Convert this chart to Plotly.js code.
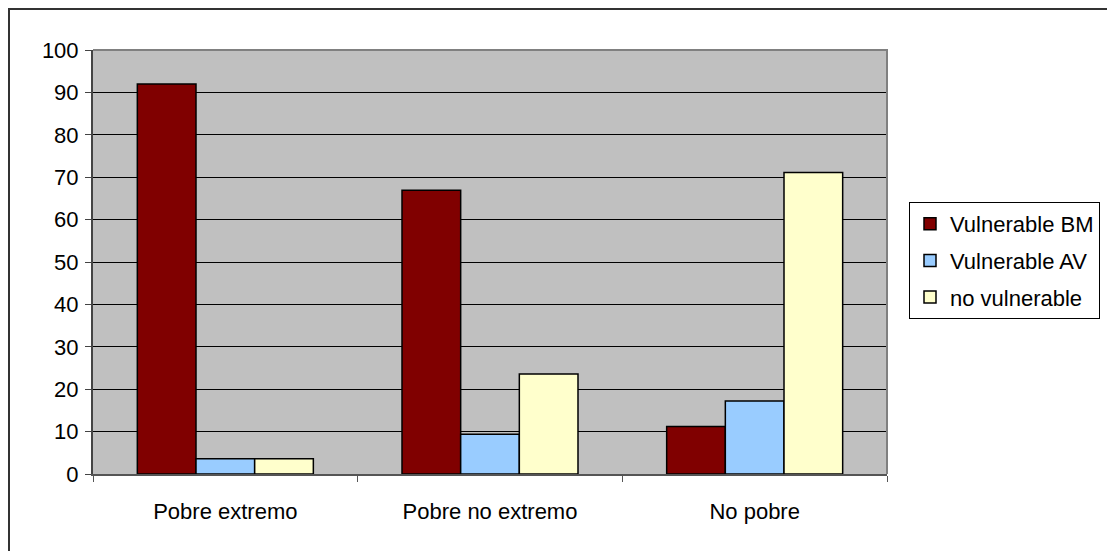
<!DOCTYPE html>
<html>
<head>
<meta charset="utf-8">
<script src="https://cdn.plot.ly/plotly-3.0.1.min.js"></script>
<style>
  html, body { margin: 0; padding: 0; background: #ffffff; }
  #chart { width: 1107px; height: 551px; }
</style>
</head>
<body>
<div id="chart"></div>
<script>
const categories = ["Pobre extremo", "Pobre no extremo", "No pobre"];
const seriesNames = ["Vulnerable BM", "Vulnerable AV", "no vulnerable"];
const vulnerableBM = [92.0, 66.9, 11.2];
const vulnerableAV = [3.6, 9.4, 17.2];
const noVulnerable = [3.6, 23.6, 71.1];
const yTicks = [0, 10, 20, 30, 40, 50, 60, 70, 80, 90, 100];

const colors = ["#800000", "#99ccff", "#ffffcc"];
const seriesValues = [vulnerableBM, vulnerableAV, noVulnerable];

const FONT = "Liberation Sans, Arial, sans-serif";
const FS = 22;

const traces = seriesValues.map((vals, i) => ({
  type: "bar",
  name: seriesNames[i],
  x: categories,
  y: vals,
  legendgroup: "g" + i,
  marker: { color: colors[i], line: { color: "#000000", width: 1.5 } },
  hoverinfo: "x+y+name"
}));

// plot area in pixels: x 93..887, y 50..474
const L = 93, R = 887, T = 50, B = 474;
const W = 1107, H = 551;
const px = v => (v - L) / (R - L);
const py = v => (B - v) / (B - T);

const layout = {
  width: W,
  height: H,
  margin: { l: L, r: W - R, t: T, b: H - B, pad: 0, autoexpand: false },
  paper_bgcolor: "#ffffff",
  plot_bgcolor: "#c0c0c0",
  barmode: "group",
  bargap: 0.335,
  bargroupgap: 0,
  font: { family: FONT, size: FS, color: "#000000" },
  xaxis: {
    type: "category",
    tickson: "boundaries",
    ticks: "outside",
    ticklen: 6,
    tickcolor: "#555555",
    tickwidth: 1,
    showline: true,
    linecolor: "#555555",
    linewidth: 1.5,
    showgrid: false,
    zeroline: false,
    tickfont: { family: FONT, size: FS, color: "#000000" },
    ticklabelstandoff: 17,
    automargin: false,
    fixedrange: true
  },
  yaxis: {
    range: [0, 100],
    tickvals: yTicks,
    ticktext: yTicks.map(String),
    ticks: "outside",
    ticklen: 6,
    tickcolor: "#444444",
    tickwidth: 1,
    showline: true,
    linecolor: "#444444",
    linewidth: 2,
    showgrid: true,
    gridcolor: "#000000",
    gridwidth: 1,
    zeroline: false,
    tickfont: { family: FONT, size: FS, color: "#000000" },
    ticklabelstandoff: 2,
    automargin: false,
    fixedrange: true
  },
  showlegend: true,
  legend: {
    x: px(909),
    y: py(202),
    xanchor: "left",
    yanchor: "top",
    bgcolor: "#ffffff",
    bordercolor: "#000000",
    borderwidth: 1,
    font: { family: FONT, size: FS, color: "#000000" },
    tracegroupgap: 5,
    itemwidth: 30,
    traceorder: "grouped"
  },
  shapes: [
    // plot area border (top & right)
    {
      type: "path", xref: "paper", yref: "paper",
      path: `M ${px(L)} ${py(T)} L ${px(R)} ${py(T)} L ${px(R)} ${py(B)}`,
      line: { color: "#808080", width: 2 }, layer: "above"
    },
    // outer chart frame (top & left, cut off at right/bottom)
    {
      type: "path", xref: "paper", yref: "paper",
      path: `M ${px(9)} ${py(H + 10)} L ${px(9)} ${py(9)} L ${px(W + 10)} ${py(9)}`,
      line: { color: "#333333", width: 2 }, layer: "above"
    }
  ]
};

Plotly.newPlot("chart", traces, layout, { displayModeBar: false, staticPlot: true });
</script>
</body>
</html>
